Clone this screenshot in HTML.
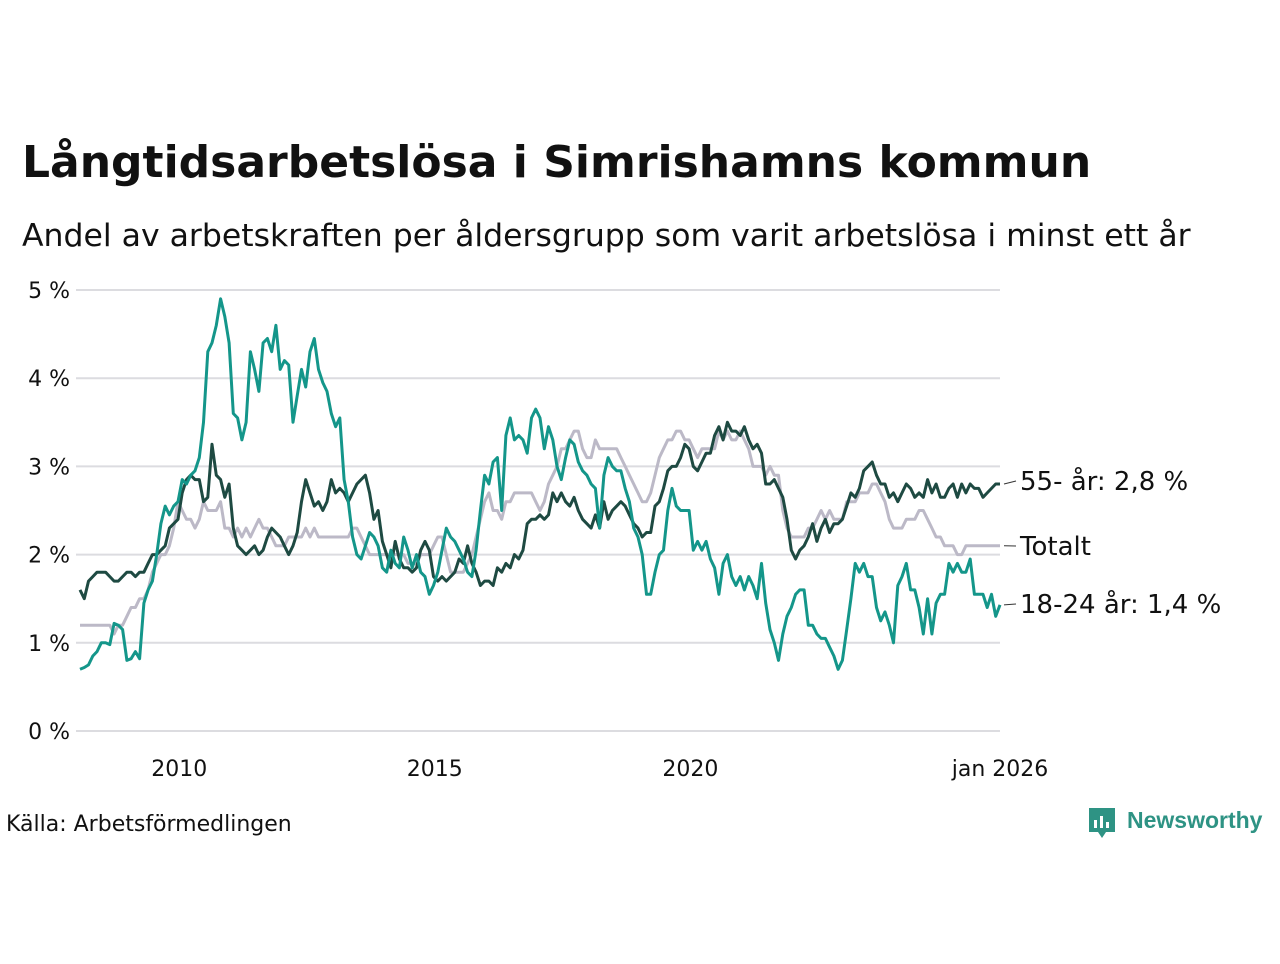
<!DOCTYPE html>
<html><head><meta charset="utf-8"><style>
body{margin:0;background:#fff;width:1280px;height:960px;overflow:hidden;font-family:"DejaVu Sans","Liberation Sans",sans-serif;}
</style></head><body>
<svg width="1280" height="960" xmlns="http://www.w3.org/2000/svg">
<text x="22" y="177" font-size="44" font-weight="bold" fill="#111">Långtidsarbetslösa i Simrishamns kommun</text>
<text x="22" y="246" font-size="31.5" fill="#111">Andel av arbetskraften per åldersgrupp som varit arbetslösa i minst ett år</text>
<g id="grid"></g><g id="series"></g><g id="labels"></g>
<text x="6" y="831" font-size="22" fill="#111">Källa: Arbetsförmedlingen</text>
<g>
<path d="M1089 808 h26 v24 h-9 l-4 6 l-4 -6 h-9 z" fill="#2e9384"/>
<rect x="1094" y="820" width="3" height="8" fill="#fff"/><rect x="1100" y="816" width="3" height="12" fill="#fff"/><rect x="1106" y="822" width="3" height="6" fill="#fff"/>
<text x="1127" y="828" font-size="23" font-weight="bold" fill="#2e9384" font-family="Liberation Sans, sans-serif">Newsworthy</text>
</g>
</svg>
<script>
const years=[2010,2015,2020];
const yTicks=[0,1,2,3,4,5];
const youth=[0.7,0.72,0.75,0.85,0.9,1.0,1.0,0.98,1.22,1.2,1.15,0.8,
0.82,0.9,0.82,1.45,1.6,1.7,2.0,2.35,2.55,2.45,2.55,2.6,
2.85,2.8,2.9,2.95,3.1,3.5,4.3,4.4,4.6,4.9,4.7,4.4,
3.6,3.55,3.3,3.5,4.3,4.1,3.85,4.4,4.45,4.3,4.6,4.1,
4.2,4.15,3.5,3.8,4.1,3.9,4.3,4.45,4.1,3.95,3.85,3.6,
3.45,3.55,2.85,2.6,2.2,2.0,1.95,2.1,2.25,2.2,2.1,1.85,
1.8,2.05,1.9,1.85,2.2,2.05,1.85,2.0,1.8,1.75,1.55,1.65,
1.8,2.05,2.3,2.2,2.15,2.05,1.95,1.8,1.75,2.05,2.5,2.9,
2.8,3.05,3.1,2.5,3.35,3.55,3.3,3.35,3.3,3.15,3.55,3.65,
3.55,3.2,3.45,3.3,3.0,2.85,3.1,3.3,3.25,3.05,2.95,2.9,
2.8,2.75,2.3,2.9,3.1,3.0,2.95,2.95,2.75,2.6,2.3,2.2,
2.0,1.55,1.55,1.8,2.0,2.05,2.5,2.75,2.55,2.5,2.5,2.5,
2.05,2.15,2.05,2.15,1.95,1.85,1.55,1.9,2.0,1.75,1.65,1.75,
1.6,1.75,1.65,1.5,1.9,1.45,1.15,1.0,0.8,1.1,1.3,1.4,
1.55,1.6,1.6,1.2,1.2,1.1,1.05,1.05,0.95,0.85,0.7,0.8,
1.15,1.5,1.9,1.8,1.9,1.75,1.75,1.4,1.25,1.35,1.2,1.0,
1.65,1.75,1.9,1.6,1.6,1.4,1.1,1.5,1.1,1.45,1.55,1.55,
1.9,1.8,1.9,1.8,1.8,1.95,1.55,1.55,1.55,1.4,1.55,1.3,
1.43];
const senior=[1.6,1.5,1.7,1.75,1.8,1.8,1.8,1.75,1.7,1.7,1.75,1.8,
1.8,1.75,1.8,1.8,1.9,2.0,2.0,2.05,2.1,2.3,2.35,2.4,
2.7,2.85,2.9,2.85,2.85,2.6,2.65,3.25,2.9,2.85,2.65,2.8,
2.3,2.1,2.05,2.0,2.05,2.1,2.0,2.05,2.2,2.3,2.25,2.2,
2.1,2.0,2.1,2.25,2.6,2.85,2.7,2.55,2.6,2.5,2.6,2.85,
2.7,2.75,2.7,2.6,2.7,2.8,2.85,2.9,2.7,2.4,2.5,2.15,
2.0,1.85,2.15,1.95,1.85,1.85,1.8,1.85,2.05,2.15,2.05,1.75,
1.7,1.75,1.7,1.75,1.8,1.95,1.9,2.1,1.9,1.8,1.65,1.7,
1.7,1.65,1.85,1.8,1.9,1.85,2.0,1.95,2.05,2.35,2.4,2.4,
2.45,2.4,2.45,2.7,2.6,2.7,2.6,2.55,2.65,2.5,2.4,2.35,
2.3,2.45,2.3,2.6,2.4,2.5,2.55,2.6,2.55,2.45,2.35,2.3,
2.2,2.25,2.25,2.55,2.6,2.75,2.95,3.0,3.0,3.1,3.25,3.2,
3.0,2.95,3.05,3.15,3.15,3.35,3.45,3.3,3.5,3.4,3.4,3.35,
3.45,3.3,3.2,3.25,3.15,2.8,2.8,2.85,2.75,2.65,2.4,2.05,
1.95,2.05,2.1,2.2,2.35,2.15,2.3,2.4,2.25,2.35,2.35,2.4,
2.55,2.7,2.65,2.75,2.95,3.0,3.05,2.9,2.8,2.8,2.65,2.7,
2.6,2.7,2.8,2.75,2.65,2.7,2.65,2.85,2.7,2.8,2.65,2.65,
2.75,2.8,2.65,2.8,2.7,2.8,2.75,2.75,2.65,2.7,2.75,2.8,
2.8];
const total=[1.2,1.2,1.2,1.2,1.2,1.2,1.2,1.2,1.1,1.2,1.2,1.3,
1.4,1.4,1.5,1.5,1.6,1.8,1.9,2.0,2.0,2.1,2.3,2.6,
2.5,2.4,2.4,2.3,2.4,2.6,2.5,2.5,2.5,2.6,2.3,2.3,
2.2,2.3,2.2,2.3,2.2,2.3,2.4,2.3,2.3,2.2,2.1,2.1,
2.1,2.2,2.2,2.2,2.2,2.3,2.2,2.3,2.2,2.2,2.2,2.2,
2.2,2.2,2.2,2.2,2.3,2.3,2.2,2.1,2.0,2.0,2.0,2.0,
2.0,2.0,2.0,2.0,2.0,1.9,1.9,1.9,2.0,2.0,2.0,2.1,
2.2,2.2,2.0,1.8,1.8,1.8,1.8,1.9,2.0,2.2,2.4,2.6,
2.7,2.5,2.5,2.4,2.6,2.6,2.7,2.7,2.7,2.7,2.7,2.6,
2.5,2.6,2.8,2.9,3.0,3.2,3.2,3.3,3.4,3.4,3.2,3.1,
3.1,3.3,3.2,3.2,3.2,3.2,3.2,3.1,3.0,2.9,2.8,2.7,
2.6,2.6,2.7,2.9,3.1,3.2,3.3,3.3,3.4,3.4,3.3,3.3,
3.2,3.1,3.2,3.2,3.2,3.2,3.4,3.3,3.4,3.3,3.3,3.4,
3.3,3.2,3.0,3.0,3.0,2.9,3.0,2.9,2.9,2.5,2.3,2.2,
2.2,2.2,2.2,2.3,2.3,2.4,2.5,2.4,2.5,2.4,2.4,2.4,
2.6,2.6,2.6,2.7,2.7,2.7,2.8,2.8,2.7,2.6,2.4,2.3,
2.3,2.3,2.4,2.4,2.4,2.5,2.5,2.4,2.3,2.2,2.2,2.1,
2.1,2.1,2.0,2.0,2.1,2.1,2.1,2.1,2.1,2.1,2.1,2.1,
2.1];
const ns="http://www.w3.org/2000/svg";
const x0=80,x1=1000,n=total.length;
const xm=i=>x0+(x1-x0)*i/(n-1);
const xy=yr=>xm((yr-2008)*12);
const ys=v=>731-v*88.2;
function mk(t,a,p){const e=document.createElementNS(ns,t);for(const k in a)e.setAttribute(k,a[k]);p.appendChild(e);return e;}
const grid=document.getElementById('grid');
yTicks.forEach(v=>{
 const l=mk('line',{x1:76,x2:1000,y1:ys(v),y2:ys(v),stroke:'#dcdce0','stroke-width':2},grid);
 
 
 const t=mk('text',{x:70,y:ys(v)+8,'font-size':22,'text-anchor':'end',fill:'#111'},grid);
 t.textContent=v+' %';
 
 
});
years.forEach(yr=>{
 const t=mk('text',{x:xy(yr)-3,y:776,'font-size':22,'text-anchor':'middle',fill:'#111'},grid);
 t.textContent=yr;
 
 
});
const lt=mk('text',{x:1000,y:776,'font-size':22,'text-anchor':'middle',fill:'#111'},grid);
lt.textContent='jan 2026';


const S=document.getElementById('series'),L=document.getElementById('labels');
const series=[[total,'#bcb9c7','line-totalt','Totalt'],[senior,'#1e4a42','line-55-ar','55- år: 2,8 %'],[youth,'#14968a','line-18-24-ar','18-24 år: 1,4 %']];
const labelY={ 'line-totalt':546,'line-55-ar':481,'line-18-24-ar':604};
series.forEach(([d,c,name,lab])=>{
 const p=mk('polyline',{points:d.map((v,i)=>xm(i).toFixed(1)+','+ys(v).toFixed(1)).join(' '),fill:'none',stroke:c,'stroke-width':3,'stroke-linejoin':'round'},S);
 
 
 const ly=labelY[name],vy=ys(d[n-1]);
 const ln=mk('line',{x1:1004,y1:vy,x2:1016,y2:ly,stroke:'#333','stroke-width':1},L);
 
 
 const t=mk('text',{x:1020,y:ly+9,'font-size':26,fill:'#111'},L);
 t.textContent=lab;
 
 
});
</script>
</body></html>
